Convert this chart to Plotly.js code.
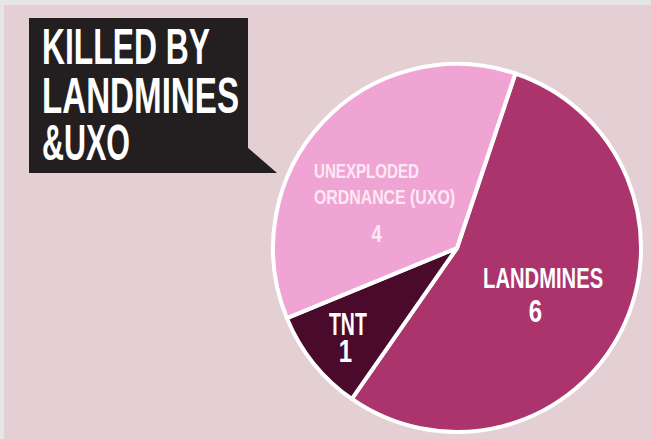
<!DOCTYPE html>
<html>
<head>
<meta charset="utf-8">
<script src="https://cdn.plot.ly/plotly-3.0.1.min.js"></script>
<style>
  html, body { margin: 0; padding: 0; overflow: hidden; background: #e6e6e8; }
  #chart { width: 651px; height: 439px; }
</style>
</head>
<body>
<div id="chart"></div>
<script>
// ---- data ----
const categories = ['LANDMINES', 'TNT', 'UNEXPLODED ORDNANCE (UXO)'];
const values = [6, 1, 4];
const sliceColors = ['#ab346d', '#4a0a2c', '#f0a4d4'];
const labelLines = [['LANDMINES'], ['TNT'], ['UNEXPLODED', 'ORDNANCE (UXO)']];
const titleLines = ['KILLED BY', 'LANDMINES', '&UXO'];

// ---- layout helpers ----
const W = 651, H = 439;
const px = x => x / W;
const py = y => 1 - y / H;
const FONT = 'Liberation Sans, Arial, sans-serif';
const CAP = 0.716;   // cap height / em for Liberation Sans

const cx = 457, cy = 248, r = 184;

const trace = {
  type: 'pie',
  labels: categories,
  values: values,
  sort: false,
  direction: 'clockwise',
  rotation: 18.5,
  textinfo: 'none',
  hoverinfo: 'label+value',
  marker: { colors: sliceColors, line: { color: '#ffffff', width: 4 } },
  domain: { x: [px(cx - r), px(cx + r)], y: [py(cy + r), py(cy - r)] }
};

const annotations = [];
const fits = [];   // target width per annotation (null = fixed condensation)
function ann(text, x, y, capH, width, color, anchor) {
  annotations.push({
    text: text, xref: 'paper', yref: 'paper', x: px(x), y: py(y),
    xanchor: anchor || 'center', yanchor: 'middle', showarrow: false,
    font: { family: FONT, size: capH / CAP, color: color, weight: 'bold' }
  });
  fits.push({ width: width, anchor: anchor || 'center' });
}
// title lines
const titleY = [46, 95, 142];
const titleW = [168, 197, 88];
titleLines.forEach((t, i) => ann(t, 40, titleY[i], 36, titleW[i], '#ffffff', 'left'));
// landmines
ann(labelLines[0][0], 543, 277.5, 21, 120, '#ffffff');
ann(String(values[0]), 535, 311.5, 22, null, '#ffffff');
// TNT
ann(labelLines[1][0], 348, 324, 22, 38, '#ffffff');
ann(String(values[1]), 346, 351.5, 22, null, '#ffffff');
// UXO
ann(labelLines[2][0], 312, 170.5, 15, 105, '#fde9f4', 'left');
ann(labelLines[2][1], 312, 196, 15, 141, '#fde9f4', 'left');
ann(String(values[2]), 377, 233.5, 17, null, '#fde9f4');

const shapes = [
  { type: 'rect', xref: 'paper', yref: 'paper', x0: px(4), x1: px(651), y0: py(439), y1: py(5),
    fillcolor: '#e4d0d4', line: { width: 0 }, layer: 'below' },
  { type: 'rect', xref: 'paper', yref: 'paper', x0: px(29), x1: px(248), y0: py(173), y1: py(18),
    fillcolor: '#231f20', line: { width: 0 }, layer: 'below' },
  { type: 'path', xref: 'paper', yref: 'paper',
    path: `M ${px(247)} ${py(147)} L ${px(277)} ${py(173)} L ${px(247)} ${py(173)} Z`,
    fillcolor: '#231f20', line: { width: 0 }, layer: 'below' }
];

const layout = {
  width: W, height: H,
  margin: { l: 0, r: 0, t: 0, b: 0 },
  paper_bgcolor: '#e6e6e8',
  plot_bgcolor: 'rgba(0,0,0,0)',
  showlegend: false,
  shapes: shapes,
  annotations: annotations
};

Plotly.newPlot('chart', [trace], layout, { displayModeBar: false, staticPlot: true }).then(() => {
  // condense the labels horizontally to mimic the narrow display typeface
  document.querySelectorAll('#chart .annotation').forEach(g => {
    const idx = +g.getAttribute('data-index');
    const t = g.querySelector('.annotation-text');
    if (!t || !fits[idx]) return;
    const b = t.getBBox();
    const sx = fits[idx].width ? fits[idx].width / b.width : 0.78;
    const ax = fits[idx].anchor === 'left' ? b.x : b.x + b.width / 2;
    t.setAttribute('transform', `translate(${ax},0) scale(${sx},1) translate(${-ax},0)`);
  });
});
</script>
</body>
</html>
